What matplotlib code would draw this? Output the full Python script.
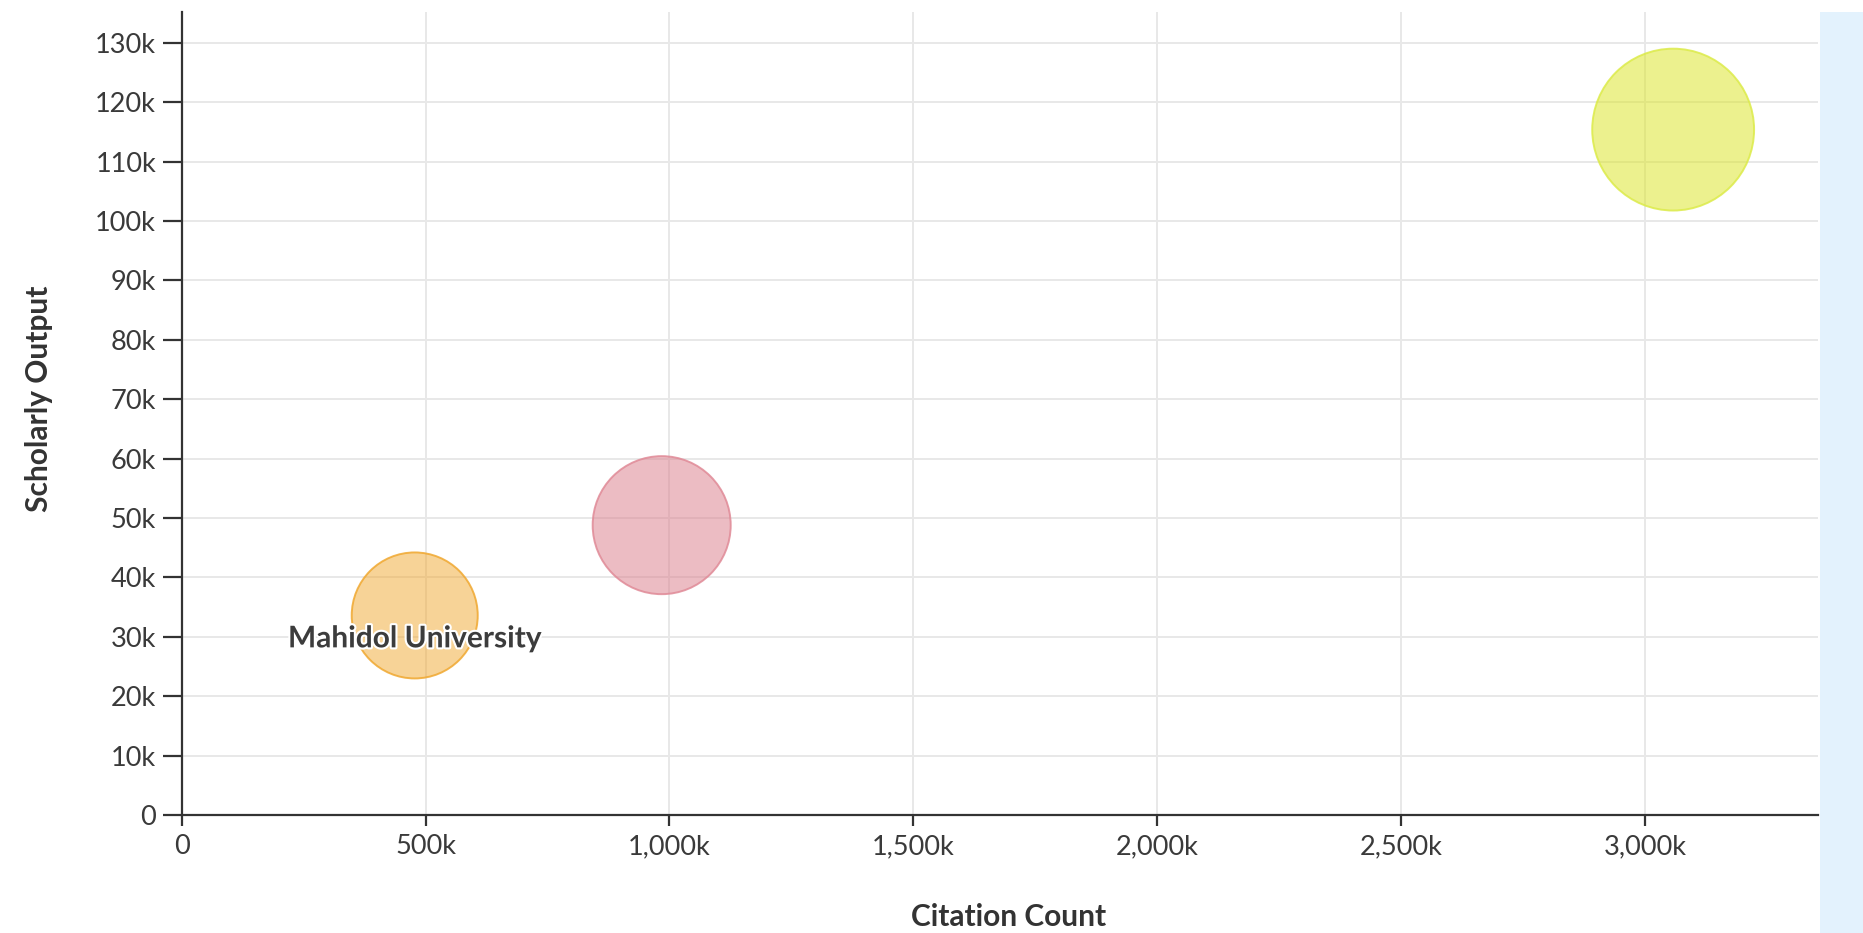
import matplotlib
matplotlib.use("Agg")
import matplotlib.pyplot as plt
from matplotlib.patches import Rectangle
from matplotlib.ticker import FuncFormatter, MultipleLocator
import matplotlib.patheffects as pe

# values
institutions = ["Mahidol University", "", ""]
citation_count = [477600, 984000, 3058000]
scholarly_output = [33600, 48800, 115400]
bubble_value = [1.0, 1.2, 1.65]
bubble_colors = ["#F0A830", "#DB7B89", "#DBE51F"]
edge_colors = ["#F0A830", "#E08A97", "#DCEB4A"]

plt.rcParams['font.family'] = ['Lato', 'DejaVu Sans']

W, H = 1863, 933
fig = plt.figure(figsize=(W / 100, H / 100), dpi=100)
fig.patch.set_facecolor("white")

# light blue side panel on the right edge
fig.patches.append(Rectangle((1820 / W, 0), (W - 1820) / W, (H - 12) / H,
                             transform=fig.transFigure, facecolor="#E3F2FD",
                             edgecolor="none", zorder=0))

ax = fig.add_axes([181.8 / W, 118 / H, (1818 - 181.8) / W, (815 - 12) / H])
ax.set_xlim(0, 3355000)
ax.set_ylim(0, 135200)

ax.xaxis.set_major_locator(MultipleLocator(500000))
ax.yaxis.set_major_locator(MultipleLocator(10000))


def kfmt(v, pos):
    if v == 0:
        return "0"
    return f"{v / 1000:,.0f}k"


ax.xaxis.set_major_formatter(FuncFormatter(kfmt))
ax.yaxis.set_major_formatter(FuncFormatter(kfmt))

ax.grid(True, color="#E8E8E8", linewidth=1.4, zorder=0)
ax.set_axisbelow(True)
for s in ["top", "right"]:
    ax.spines[s].set_visible(False)
for s in ["left", "bottom"]:
    ax.spines[s].set_color("#333333")
    ax.spines[s].set_linewidth(1.6)

ax.tick_params(axis="y", length=13.5, width=1.6, color="#333333",
               labelsize=19.5, labelcolor="#3a3a3a", pad=5)
ax.tick_params(axis="x", length=8, width=1.6, color="#333333",
               labelsize=19.5, labelcolor="#3a3a3a", pad=6)

base_area = (2 * 63 * 0.72) ** 2
for x, y, v, fc, ec in zip(citation_count, scholarly_output, bubble_value,
                           bubble_colors, edge_colors):
    ax.scatter(x, y, s=base_area * v, facecolor=fc, edgecolor="none",
               alpha=0.5, zorder=3)
    ax.scatter(x, y, s=base_area * v, facecolor="none", edgecolor=ec,
               linewidth=1.4, alpha=0.85, zorder=3)

for name, x, y in zip(institutions, citation_count, scholarly_output):
    if name:
        ax.annotate(name, (x, y), xytext=(0, -16.5), textcoords="offset points",
                    ha="center", va="center", fontsize=21.5, fontweight="bold",
                    color="#3c3c3c", zorder=5,
                    path_effects=[pe.withStroke(linewidth=3, foreground="white")])

ax.set_xlabel("Citation Count", fontsize=21.5, fontweight="bold", color="#333333")
ax.xaxis.set_label_coords(0.505, -0.11)
ax.set_ylabel("Scholarly Output", fontsize=21.5, fontweight="bold", color="#333333")
ax.yaxis.set_label_coords(-0.079, 0.518)

fig.savefig("out.png", dpi=100)
